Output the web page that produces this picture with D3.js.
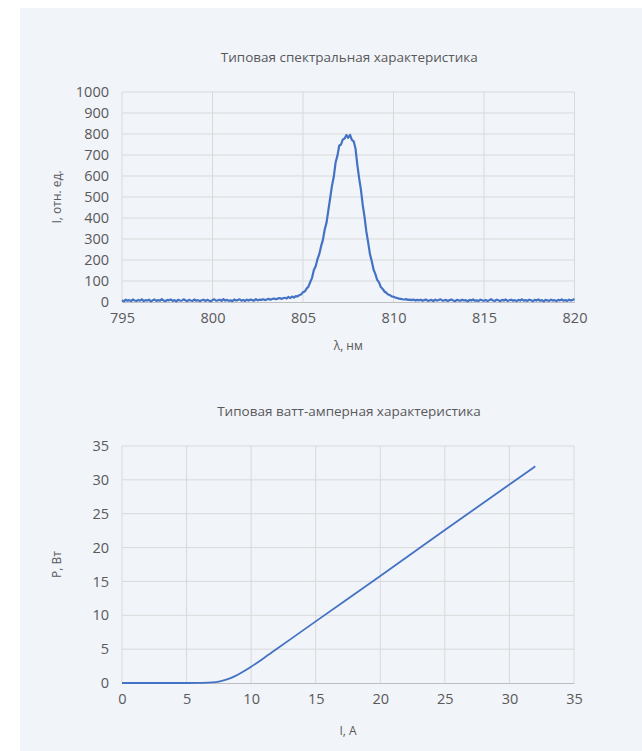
<!DOCTYPE html>
<html>
<head>
<meta charset="utf-8">
<script src="https://cdn.jsdelivr.net/npm/d3@7"></script>
<style>
  body { margin: 0; background: #fff; }
  svg { display: block; }
  text { font-family: "Open Sans", sans-serif; fill: #595959; }
</style>
</head>
<body>
<svg id="chart" width="642" height="751"></svg>
<script>
// spectrum: intensity sampled every 0.1 nm from 795 to 820
const lambdaStart = 795
const lambdaStep = 0.1
const intensity = [
  8, 3, 11, 6, 9, 4, 12, 7, 5, 10,
  6, 13, 4, 9, 7, 11, 3, 8, 12, 5,
  9, 6, 14, 7, 4, 10, 8, 12, 5, 9,
  3, 11, 7, 6, 13, 8, 4, 10, 7, 5,
  12, 6, 9, 4, 8, 11, 5, 10, 7, 3,
  9, 13, 6, 8, 11, 5, 14, 7, 10, 6,
  8, 4, 12, 7, 9, 13, 6, 10, 5, 11,
  7, 12, 9, 6, 14, 8, 11, 10, 13, 9,
  12, 15, 11, 14, 17, 13, 16, 19, 15, 18,
  20, 17, 24, 19, 26, 21, 28, 27, 33, 36,
  47, 50, 64, 73, 95, 115, 152, 170, 204, 228,
  266, 296, 345, 378, 436, 494, 553, 596, 664, 696,
  744, 750, 774, 778, 795, 782, 796, 772, 765, 731,
  654, 590, 535, 462, 405, 335, 284, 228, 194, 154,
  133, 105, 93, 71, 62, 50, 44, 36, 33, 27,
  25, 21, 19, 16, 15, 13, 12, 14, 10, 11,
  9, 12, 7, 10, 8, 11, 6, 9, 12, 5,
  8, 10, 4, 11, 7, 9, 13, 6, 8, 10,
  5, 9, 12, 7, 4, 10, 8, 6, 11, 7,
  9, 3, 10, 7, 12, 6, 8, 5, 11, 8,
  6, 10, 4, 9, 13, 7, 5, 11, 8, 4,
  10, 7, 12, 5, 8, 11, 6, 9, 4, 10,
  7, 13, 6, 9, 5, 11, 8, 4, 10, 7,
  12, 6, 9, 3, 10, 8, 5, 11, 7, 9,
  4, 10, 8, 12, 6, 9, 5, 11, 7, 10,
  14
]
const lambdaTicks = [795, 800, 805, 810, 815, 820]
const intensityTicks = [0, 100, 200, 300, 400, 500, 600, 700, 800, 900, 1000]

// power vs current
const current = [0, 5, 6, 7, 7.5, 8, 8.5, 9, 9.5, 10, 11, 12, 15, 20, 25, 30, 32]
const power = [0, 0, 0.02, 0.08, 0.2, 0.45, 0.8, 1.25, 1.8, 2.4, 3.7, 5.05, 9.1, 15.8, 22.6, 29.3, 32]
const currentTicks = [0, 5, 10, 15, 20, 25, 30, 35]
const powerTicks = [0, 5, 10, 15, 20, 25, 30, 35]

const blue = '#4472c4'
const grid = '#d9d9d9'

let svg = d3.select('#chart')

svg.append('rect')
    .attr('x', 20).attr('y', 8)
    .attr('width', 622).attr('height', 743)
    .attr('fill', '#f1f4f9')

function drawChart(o){
  let x = d3.scaleLinear().domain(o.xDomain).range([o.left, o.right])
  let y = d3.scaleLinear().domain(o.yDomain).range([o.bottom, o.top])

  // grid
  svg.append('g').selectAll('line.h')
      .data(o.yTicks.slice(1))
      .enter().append('line')
      .attr('x1', o.left).attr('x2', o.right)
      .attr('y1', d => y(d)).attr('y2', d => y(d))
      .attr('stroke', grid)
  svg.append('g').selectAll('line.v')
      .data(o.xTicks)
      .enter().append('line')
      .attr('x1', d => x(d)).attr('x2', d => x(d))
      .attr('y1', o.top).attr('y2', o.bottom)
      .attr('stroke', grid)

  // axes
  let gx = svg.append('g')
      .attr('transform', 'translate(0,' + o.bottom + ')')
      .call(d3.axisBottom(x).tickValues(o.xTicks).tickFormat(d3.format('d')).tickSize(0).tickPadding(11))
  gx.select('.domain').attr('stroke', '#bfbfbf')
  gx.selectAll('text').style('font-size', '14.5px').style('fill', '#595959')

  let gy = svg.append('g')
      .attr('transform', 'translate(' + o.left + ',0)')
      .call(d3.axisLeft(y).tickValues(o.yTicks).tickFormat(d3.format('d')).tickSize(0).tickPadding(13))
  gy.select('.domain').remove()
  gy.selectAll('text').style('font-size', '14.5px').style('fill', '#595959')

  // line
  let line = d3.line()
      .x(d => x(d[0]))
      .y(d => y(d[1]))
      .curve(o.curve)
  svg.append('path')
      .datum(o.points)
      .attr('d', line)
      .attr('fill', 'none')
      .attr('stroke', blue)
      .attr('stroke-width', o.width)
      .attr('stroke-linejoin', 'round')

  // titles
  svg.append('text')
      .attr('x', (o.left + o.right) / 2 + 1)
      .attr('y', o.titleY)
      .attr('text-anchor', 'middle')
      .style('font-size', '13.5px')
      .text(o.title)
  svg.append('text')
      .attr('x', (o.left + o.right) / 2)
      .attr('y', o.xLabelY)
      .attr('text-anchor', 'middle')
      .style('font-size', '12px')
      .text(o.xLabel)
  svg.append('text')
      .attr('transform', 'translate(61,' + (o.top + o.bottom) / 2 + ') rotate(-90)')
      .attr('text-anchor', 'middle')
      .style('font-size', '12px')
      .text(o.yLabel)
}

drawChart({
  left: 122, right: 574.5, top: 92, bottom: 302,
  xDomain: [795, 820], yDomain: [0, 1000],
  xTicks: lambdaTicks, yTicks: intensityTicks,
  points: intensity.map((v, i) => [lambdaStart + i * lambdaStep, v]),
  curve: d3.curveLinear, width: 2.2,
  title: 'Типовая спектральная характеристика', titleY: 62,
  xLabel: 'λ, нм', xLabelY: 350, yLabel: 'I, отн. ед.'
})

drawChart({
  left: 122, right: 574, top: 446, bottom: 683,
  xDomain: [0, 35], yDomain: [0, 35],
  xTicks: currentTicks, yTicks: powerTicks,
  points: current.map((c, i) => [c, power[i]]),
  curve: d3.curveMonotoneX, width: 1.8,
  title: 'Типовая ватт-амперная характеристика', titleY: 416,
  xLabel: 'I, A', xLabelY: 735, yLabel: 'P, Вт'
})
</script>
</body>
</html>
